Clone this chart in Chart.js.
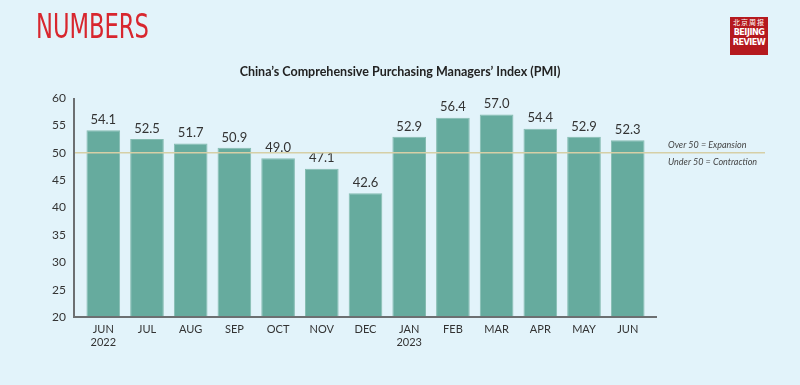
<!DOCTYPE html>
<html>
<head>
<meta charset="utf-8">
<script src="https://cdn.jsdelivr.net/npm/chart.js@4"></script>
<style>
  html, body { margin: 0; padding: 0; background: #e2f3fa; }
  #wrap { position: relative; width: 800px; height: 385px; }
  #pmiChart { position: absolute; left: 0; top: 0; }
  .numbers {
    position: absolute; left: 36px; top: 6px;
    font-family: "DejaVu Sans Condensed", sans-serif;
    font-size: 34px; color: #d8262e;
    transform: scaleX(0.74); transform-origin: left top;
  }
  .title {
    position: absolute; left: 0; width: 800px; top: 64px; text-align: center;
    font-family: Lato, sans-serif; font-weight: bold; font-size: 12.5px; color: #222;
  }
  .logo {
    position: absolute; left: 730px; top: 17px; width: 38px; height: 38px;
    background: #b5191e; color: #fff; text-align: center;
    font-family: "DejaVu Sans Condensed", sans-serif; font-weight: bold;
  }
  .logo .cn { font-family: "Noto Sans CJK SC", sans-serif; font-size: 7px; line-height: 10px; font-weight: normal; letter-spacing: 1px; }
  .logo .en { font-size: 9px; line-height: 10px; letter-spacing: -0.5px; }
</style>
</head>
<body>
<div id="wrap">
  <canvas id="pmiChart" width="800" height="385"></canvas>
  <div class="numbers">NUMBERS</div>
  <div class="title">China’s Comprehensive Purchasing Managers’ Index (PMI)</div>
  <div class="logo"><div class="cn">北京周报</div><div class="en">BEIJING</div><div class="en">REVIEW</div></div>
</div>
<script>
// data PMI gabungan China, Jun 2022 - Jun 2023
const months = ["JUN", "JUL", "AUG", "SEP", "OCT", "NOV", "DEC", "JAN", "FEB", "MAR", "APR", "MAY", "JUN"];
const years = ["2022", "", "", "", "", "", "", "2023", "", "", "", "", ""];
const pmiValues = [54.1, 52.5, 51.7, 50.9, 49.0, 47.1, 42.6, 52.9, 56.4, 57.0, 54.4, 52.9, 52.3];
const yTicks = [20, 25, 30, 35, 40, 45, 50, 55, 60];
const threshold = 50;
const overText = "Over 50 = Expansion";
const underText = "Under 50 = Contraction";

const barColor = "#66ab9e";
const axisColor = "#6c6f71";
const textColor = "#333333";

// label nilai di atas batang, garis ambang 50, lalu sumbu
const extrasPlugin = {
  id: "extras",
  afterDraw(chart) {
    const { ctx, chartArea, scales } = chart;
    const meta = chart.getDatasetMeta(0);
    ctx.save();
    ctx.fillStyle = textColor;
    ctx.font = "13px Lato";
    ctx.textAlign = "center";
    ctx.textBaseline = "bottom";
    meta.data.forEach((bar, i) => {
      ctx.fillText(pmiValues[i].toFixed(1), bar.x, bar.y - 4);
    });
    const y = scales.y.getPixelForValue(threshold);
    ctx.strokeStyle = "#d6cfa6";
    ctx.lineWidth = 1.5;
    ctx.beginPath();
    ctx.moveTo(chartArea.left + 1, y);
    ctx.lineTo(chartArea.right + 108, y);
    ctx.stroke();
    ctx.font = "italic 9px Lato";
    ctx.fillStyle = "#444";
    ctx.textAlign = "left";
    ctx.textBaseline = "middle";
    ctx.fillText(overText, chartArea.right + 11, y - 8);
    ctx.fillText(underText, chartArea.right + 11, y + 9);
    // sumbu kiri dan bawah
    ctx.strokeStyle = axisColor;
    ctx.lineWidth = 2;
    ctx.beginPath();
    ctx.moveTo(chartArea.left, chartArea.top);
    ctx.lineTo(chartArea.left, chartArea.bottom);
    ctx.lineTo(chartArea.right, chartArea.bottom);
    ctx.stroke();
    ctx.restore();
  }
};

const ctx = document.getElementById("pmiChart").getContext("2d");
new Chart(ctx, {
  type: "bar",
  data: {
    datasets: [{
      label: "PMI",
      data: pmiValues.map((v, i) => ({ x: i, y: v })),
      backgroundColor: barColor,
      borderColor: "#85bcb1",
      borderWidth: 1,
      categoryPercentage: 1,
      barPercentage: 0.77
    }]
  },
  options: {
    responsive: false,
    animation: false,
    layout: { padding: { left: 0, right: 143, top: 98, bottom: 0 } },
    plugins: {
      legend: { display: false },
      tooltip: { enabled: false },
      title: { display: false }
    },
    scales: {
      x: {
        type: "linear",
        offset: false,
        min: -0.67,
        max: months.length - 1 + 0.67,
        grid: { display: false, drawTicks: false },
        border: { display: false },
        afterBuildTicks: (scale) => { scale.ticks = months.map((m, i) => ({ value: i })); },
        afterFit: (scale) => { scale.height = 68; },
        ticks: {
          autoSkip: false,
          maxRotation: 0,
          padding: 6,
          color: textColor,
          font: { family: "Lato", size: 11 },
          callback: (value) => years[value] ? [months[value], years[value]] : months[value]
        }
      },
      y: {
        min: 20,
        max: 60,
        grid: { display: false, drawTicks: false },
        border: { display: false },
        afterBuildTicks: (scale) => { scale.ticks = yTicks.map(v => ({ value: v })); },
        afterFit: (scale) => { scale.width = 74; },
        ticks: {
          padding: 8,
          color: textColor,
          font: { family: "Lato", size: 12 }
        }
      }
    }
  },
  plugins: [extrasPlugin]
});
</script>
</body>
</html>
